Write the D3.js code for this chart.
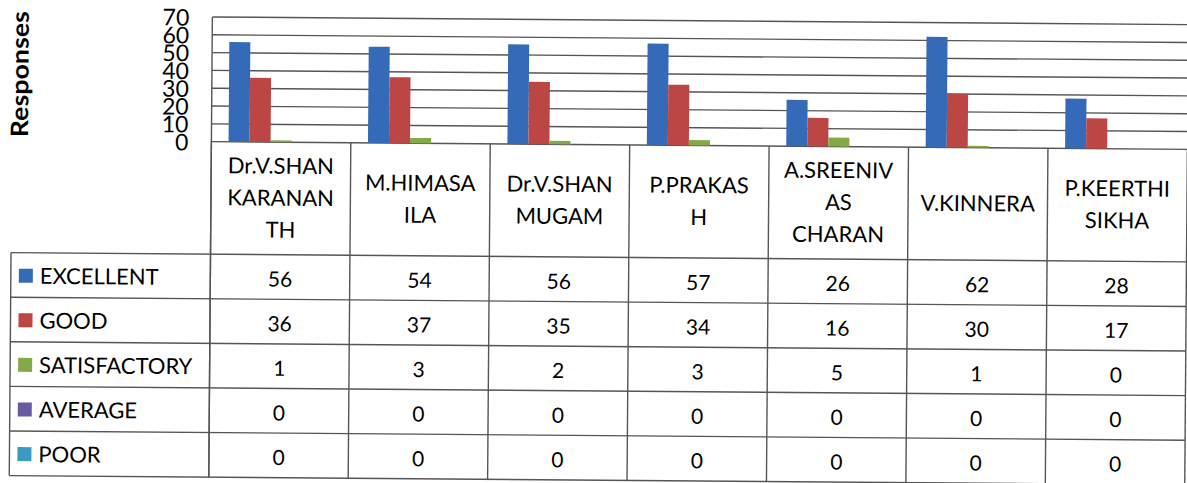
<!DOCTYPE html>
<html>
<head>
<meta charset="utf-8">
<script src="https://cdn.jsdelivr.net/npm/d3@7"></script>
<style>
  html, body { margin: 0; padding: 0; background: #fff; }
  svg { display: block; }
  text { font-family: Lato, "Open Sans", sans-serif; fill: #000; }
</style>
</head>
<body>
<svg id="chart" width="1187" height="483"></svg>
<script>
// ---- data ----
const categories = ["Dr.V.SHANKARANANTH", "M.HIMASAILA", "Dr.V.SHANMUGAM", "P.PRAKASH", "A.SREENIVASCHARAN", "V.KINNERA", "P.KEERTHISIKHA"];
const categoryLines = [
  ["Dr.V.SHAN", "KARANAN", "TH"],
  ["M.HIMASA", "ILA"],
  ["Dr.V.SHAN", "MUGAM"],
  ["P.PRAKAS", "H"],
  ["A.SREENIV", "AS", "CHARAN"],
  ["V.KINNERA"],
  ["P.KEERTHI", "SIKHA"]
];
const seriesNames = ["EXCELLENT", "GOOD", "SATISFACTORY", "AVERAGE", "POOR"];
const excellent    = [56, 54, 56, 57, 26, 62, 28];
const good         = [36, 37, 35, 34, 16, 30, 17];
const satisfactory = [1, 3, 2, 3, 5, 1, 0];
const average      = [0, 0, 0, 0, 0, 0, 0];
const poor         = [0, 0, 0, 0, 0, 0, 0];
const yTicks = [0, 10, 20, 30, 40, 50, 60, 70];
const yTitle = "Responses";

const seriesValues = [excellent, good, satisfactory, average, poor];
const colors = ["#356ab8", "#bb4644", "#84a947", "#6a5aa0", "#3b9ac2"];

// ---- layout ----
const svg = d3.select("#chart");
const root = svg.append("g").attr("transform", "rotate(0.45)");

const plotLeft = 212.5, plotRight = 1188.5, plotTop = 15.3, plotBottom = 140;
const headerBottom = 252.5, rowH = 44.6, legendLeft = 13;

const x0 = d3.scaleBand().domain(categories).range([plotLeft, plotRight]).padding(0);
const bw = x0.bandwidth();
const x1 = d3.scaleBand().domain(seriesNames).range([bw * 0.123, bw * 0.877]).padding(0);
const y = d3.scaleLinear().domain([0, 70]).range([plotBottom, plotTop]);

const lineColor = "#555";

// gridlines
root.append("g").selectAll("line").data(yTicks).join("line")
  .attr("x1", plotLeft).attr("x2", plotRight)
  .attr("y1", d => y(d)).attr("y2", d => y(d))
  .attr("stroke", lineColor).attr("stroke-width", 1.4);

// y axis labels (via d3 axis, no domain/ticks lines)
const yAxis = root.append("g")
  .attr("transform", `translate(${plotLeft - 23},0)`)
  .call(d3.axisLeft(y).tickValues(yTicks).tickSize(0).tickPadding(0));
yAxis.select(".domain").remove();
yAxis.selectAll("text")
  .attr("font-family", "Lato, sans-serif")
  .attr("font-size", 23)
  .attr("fill", "#000")
  .attr("dy", "0.36em");

// y title
root.append("text")
  .attr("transform", `translate(29,74) rotate(-90)`)
  .attr("text-anchor", "middle")
  .attr("font-size", 24)
  .attr("font-weight", "bold")
  .attr("textLength", 126)
  .attr("lengthAdjust", "spacingAndGlyphs")
  .text(yTitle);

// bars
const groups = root.append("g").selectAll("g").data(categories).join("g")
  .attr("transform", d => `translate(${x0(d)},0)`);
groups.selectAll("rect")
  .data((d, i) => seriesNames.map((s, j) => ({ s, v: seriesValues[j][i], j })))
  .join("rect")
  .attr("x", d => x1(d.s))
  .attr("width", x1.bandwidth())
  .attr("y", d => y(d.v))
  .attr("height", d => y(0) - y(d.v))
  .attr("fill", d => colors[d.j]);

// plot frame left
root.append("line").attr("x1", plotLeft).attr("x2", plotLeft)
  .attr("y1", plotTop).attr("y2", headerBottom + rowH * 5)
  .attr("stroke", lineColor).attr("stroke-width", 1.4);

// table
const tableBottom = headerBottom + rowH * 5;
const tbl = root.append("g");
tbl.selectAll("line.v").data(categories.concat(["__end"])).join("line")
  .attr("class", "v")
  .attr("x1", (d, i) => i < categories.length ? x0(d) : plotRight)
  .attr("x2", (d, i) => i < categories.length ? x0(d) : plotRight)
  .attr("y1", plotBottom).attr("y2", tableBottom)
  .attr("stroke", lineColor).attr("stroke-width", 1.4);
tbl.selectAll("line.h").data(d3.range(6)).join("line")
  .attr("class", "h")
  .attr("x1", legendLeft).attr("x2", plotRight)
  .attr("y1", i => headerBottom + i * rowH).attr("y2", i => headerBottom + i * rowH)
  .attr("stroke", lineColor).attr("stroke-width", 1.4);
tbl.append("line").attr("x1", legendLeft).attr("x2", legendLeft)
  .attr("y1", headerBottom).attr("y2", tableBottom)
  .attr("stroke", lineColor).attr("stroke-width", 1.4);

// header labels
const hdr = tbl.selectAll("text.hdr").data(categories).join("text")
  .attr("class", "hdr")
  .attr("text-anchor", "middle")
  .attr("font-size", 22);
hdr.each(function (d, i) {
  const lines = categoryLines[i];
  const cx = x0(d) + bw / 2;
  const n = lines.length;
  d3.select(this).selectAll("tspan").data(lines).join("tspan")
    .attr("x", cx)
    .attr("y", (t, k) => 203.5 + (k - (n - 1) / 2) * 32)
    .text(t => t);
});

// legend rows
const rows = tbl.selectAll("g.row").data(seriesNames).join("g")
  .attr("class", "row")
  .attr("transform", (d, i) => `translate(0,${headerBottom + i * rowH})`);
rows.append("rect")
  .attr("x", 21).attr("y", 16).attr("width", 14).attr("height", 14)
  .attr("fill", (d, i) => colors[i]);
rows.append("text")
  .attr("x", 42).attr("y", 31)
  .attr("font-size", 22)
  .text(d => d);
rows.each(function (s, j) {
  d3.select(this).selectAll("text.val").data(seriesValues[j]).join("text")
    .attr("class", "val")
    .attr("x", (v, i) => x0(categories[i]) + bw / 2)
    .attr("y", 32)
    .attr("text-anchor", "middle")
    .attr("font-size", 21)
    .text(v => v);
});
</script>
</body>
</html>
